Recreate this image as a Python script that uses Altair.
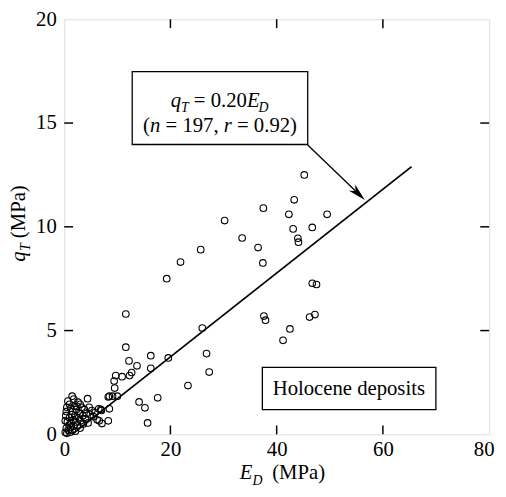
import altair as alt
import pandas as pd

# ---- data ----
E_D = [45.2, 43.3, 37.5, 42.3, 49.5, 30.2, 43.1, 46.7, 44.0, 44.1, 33.5, 36.5,
       25.7, 37.4, 21.9, 19.3, 46.7, 47.5, 11.6, 37.6, 37.9, 46.2, 47.2, 42.5,
       41.2, 26.0, 11.6, 12.2, 13.7, 12.7, 12.3, 16.3, 16.3, 19.6, 26.8, 27.3,
       23.3, 9.7, 10.9, 9.4, 9.5, 8.5, 9.1, 10.0, 17.6, 14.1, 15.2, 15.7,
       6.9, 6.5, 7.1, 8.3, 8.5, 8.3,
       0.2, 0.4, 0.5, 0.6, 0.8, 0.9, 1.0, 1.1, 1.2, 1.3, 1.4, 1.5, 1.6, 1.7,
       1.8, 1.9, 2.0, 2.1, 2.2, 2.3, 2.5, 2.6, 2.7, 2.9, 3.0, 3.1, 3.3, 3.5,
       3.6, 3.8, 4.0, 4.2, 4.4, 4.5, 4.7, 4.9, 5.2, 5.5, 5.8, 6.2, 6.6, 7.0,
       0.3, 0.5, 0.7, 1.0, 1.5, 1.8, 0.4, 2.4, 3.0, 0.2, 1.2]
q_T = [12.5, 11.3, 10.9, 10.6, 10.6, 10.3, 9.9, 9.97, 9.45, 9.26, 9.46, 9.0,
       8.9, 8.26, 8.3, 7.5, 7.28, 7.22, 5.8, 5.7, 5.5, 5.65, 5.77, 5.08,
       4.53, 5.12, 4.2, 3.54, 3.3, 2.98, 2.83, 3.79, 3.18, 3.68, 3.89, 3.0,
       2.35, 2.83, 2.78, 2.57, 2.23, 1.84, 1.84, 1.84, 1.76, 1.56, 1.28, 0.55,
       1.2, 1.23, 0.52, 0.65, 1.23, 1.8,
       0.1, 0.3, 0.05, 0.6, 0.2, 0.45, 0.8, 0.1, 0.35, 0.55, 0.95, 0.2, 1.1, 0.7,
       0.4, 1.35, 0.9, 0.15, 0.6, 1.2, 0.45, 1.55, 0.8, 1.0, 0.3, 0.65, 1.3, 0.9,
       0.5, 1.2, 0.75, 1.0, 1.72, 0.55, 1.3, 0.95, 1.15, 0.85, 1.05, 0.7, 0.65, 1.15,
       0.9, 1.3, 1.6, 1.45, 1.84, 1.7, 1.1, 1.35, 1.45, 0.65, 1.25]
fit_E = [1.5, 65.4]
fit_q = [0.0, 12.9]
arrow_E = [45.8, 55.4]
arrow_q = [13.95, 11.59]
x_tick_vals = [20, 40, 60]
y_tick_vals = [5, 10, 15]
x_labels = [0, 20, 40, 60, 80]
y_labels = [0, 5, 10, 15, 20]

W, H = 431, 421
FONT = "Liberation Serif, Times New Roman, DejaVu Serif, serif"
FS = 21
SUB = 14

xs = alt.Scale(domain=[0, 80], nice=False, zero=False)
ys = alt.Scale(domain=[0, 20], nice=False, zero=False)
xax = alt.Axis(values=x_labels, title=None, ticks=False, domain=False, grid=False,
               labelFont=FONT, labelFontSize=FS, labelColor="black",
               labelPadding=4, labelFlush=True, labelFlushOffset=5, labelOverlap=False)
yax = alt.Axis(values=y_labels, title=None, ticks=False, domain=False, grid=False,
               labelFont=FONT, labelFontSize=FS, labelColor="black",
               labelPadding=8, labelFlush=False, labelOverlap=False)

pts = alt.Chart(pd.DataFrame({"E": E_D, "q": q_T})).mark_point(
    shape="circle", filled=False, color="black", size=45, strokeWidth=1.1, opacity=1
).encode(x=alt.X("E:Q", scale=xs, axis=xax), y=alt.Y("q:Q", scale=ys, axis=yax))

fit = alt.Chart(pd.DataFrame({"E": fit_E, "q": fit_q})).mark_line(
    color="black", strokeWidth=1.8
).encode(x=alt.X("E:Q", scale=xs, axis=xax), y=alt.Y("q:Q", scale=ys, axis=yax))

arrow = alt.Chart(pd.DataFrame({"E": arrow_E, "q": arrow_q})).mark_line(
    color="black", strokeWidth=1.3
).encode(x=alt.X("E:Q", scale=xs, axis=xax), y=alt.Y("q:Q", scale=ys, axis=yax))

head = alt.Chart(pd.DataFrame({"E": arrow_E[-1:], "q": arrow_q[-1:]})).mark_point(
    shape="M0,-1L0.5,1L0,0.45L-0.5,1Z", filled=True, color="black", size=324,
    angle=134, opacity=1, strokeWidth=0
).encode(x=alt.X("E:Q", scale=xs, axis=xax), y=alt.Y("q:Q", scale=ys, axis=yax))

xt = alt.Chart(pd.DataFrame({"v": x_tick_vals})).mark_rule(color="black", strokeWidth=1.5)
xt_b = xt.encode(x=alt.X("v:Q", scale=xs, axis=xax), y=alt.value(H), y2=alt.value(H - 9))
xt_t = xt.encode(x=alt.X("v:Q", scale=xs, axis=xax), y=alt.value(0), y2=alt.value(9))
yt = alt.Chart(pd.DataFrame({"v": y_tick_vals})).mark_rule(color="black", strokeWidth=1.5)
yt_l = yt.encode(y=alt.Y("v:Q", scale=ys, axis=yax), x=alt.value(0), x2=alt.value(9))
yt_r = yt.encode(y=alt.Y("v:Q", scale=ys, axis=yax), x=alt.value(W), x2=alt.value(W - 9))

one = pd.DataFrame({"a": [0]})


def box(x1, y1, x2, y2):
    return alt.Chart(one).mark_rect(fill="white", stroke="black", strokeWidth=1.3).encode(
        x=alt.value(x1), x2=alt.value(x2), y=alt.value(y1), y2=alt.value(y2))


def txt(s, x, y, size=FS, italic=False, angle=0, align="left"):
    return alt.Chart(one).mark_text(
        text=s, font=FONT, fontSize=size, fontStyle="italic" if italic else "normal",
        align=align, baseline="alphabetic", angle=angle, color="black"
    ).encode(x=alt.value(x), y=alt.value(y))


texts = [
    box(69, 53, 247, 127),
    txt("q", 108, 89, italic=True),
    txt("T", 118.5, 94, size=SUB, italic=True),
    txt("= 0.20", 131.5, 89),
    txt("E", 185.3, 89, italic=True),
    txt("D", 197, 94, size=SUB, italic=True),
    txt("(", 80, 114),
    txt("n", 87, 114, italic=True),
    txt("= 197,", 102.8, 114),
    txt("r", 161.8, 114, italic=True),
    txt("= 0.92)", 175.3, 114),
    box(201, 353, 377, 396),
    txt("Holocene deposits", 288.7, 381, align="center"),
    txt("E", 178, 466, italic=True),
    txt("D", 191, 472.5, size=SUB, italic=True),
    txt("(MPa)", 211, 466),
    txt("q", -40, 246, italic=True, angle=270),
    txt("T", -35, 235, size=SUB, italic=True, angle=270),
    txt("(MPa)", -40, 222, angle=270),
]

chart = alt.layer(pts, fit, arrow, head, xt_b, xt_t, yt_l, yt_r, *texts).properties(
    width=W, height=H,
    autosize=alt.AutoSizeParams(type="none"),
    padding={"left": 57, "top": 8, "right": 9, "bottom": 52},
).configure_view(stroke="black", strokeWidth=3).configure(background="white")

chart.save("out.html", embed_options={"renderer": "svg", "actions": False})
